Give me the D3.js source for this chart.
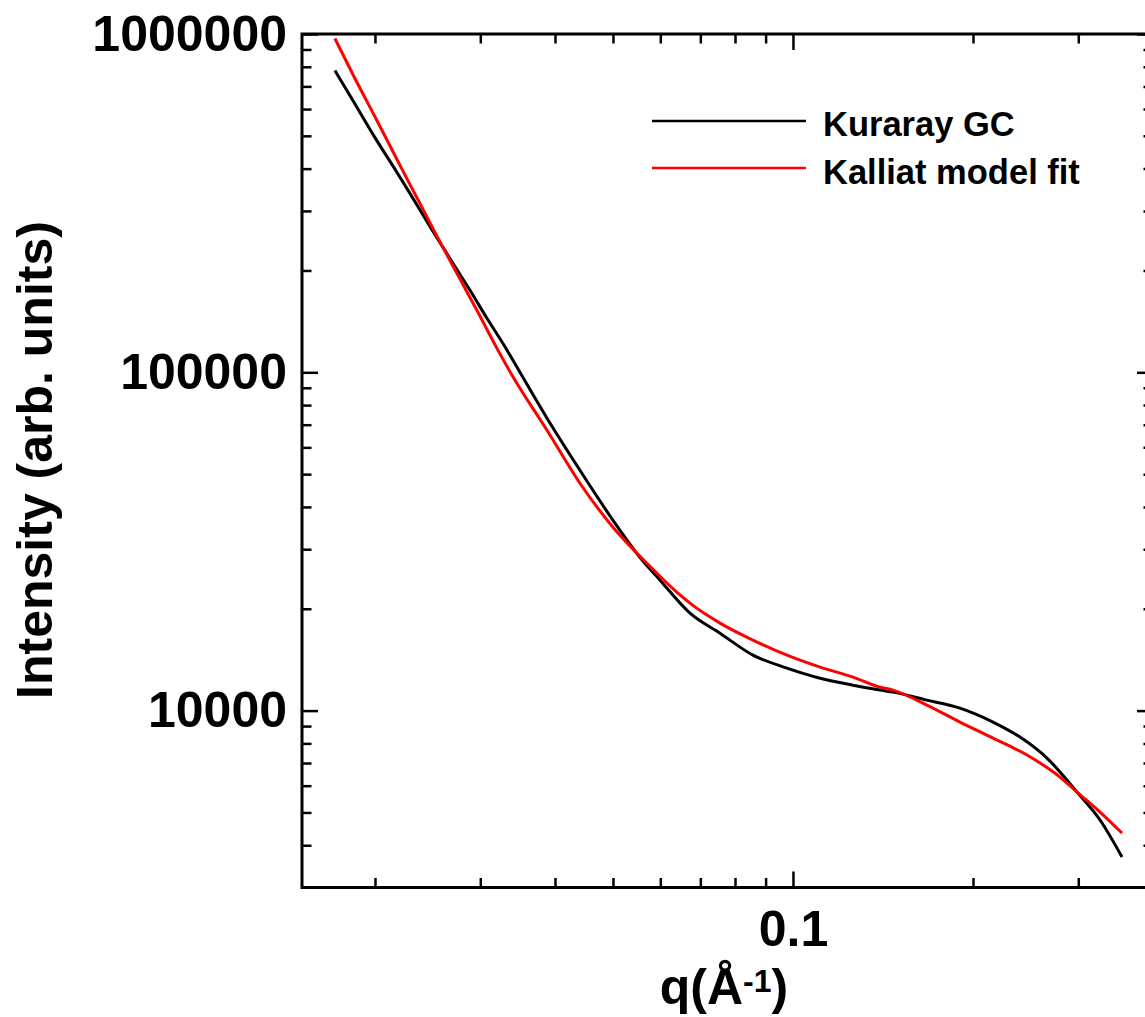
<!DOCTYPE html>
<html>
<head>
<meta charset="utf-8">
<script src="https://cdn.jsdelivr.net/npm/d3@7"></script>
<style>
  html, body { margin: 0; padding: 0; background: #fff; }
  svg { display: block; }
  text { font-family: "Liberation Sans", Arial, sans-serif; font-weight: bold; fill: #000; }
</style>
</head>
<body>
<svg id="chart" width="1145" height="1017"></svg>
<script>
// ---- Data ----
const qKuraray = [0.01714, 0.01837, 0.0200, 0.02177, 0.02288, 0.02471, 0.0270, 0.02884, 0.03078, 0.03299,
  0.03402, 0.03879, 0.04403, 0.0500, 0.05546, 0.05993, 0.06726, 0.07551, 0.08571, 0.0977,
  0.1110, 0.1260, 0.1398, 0.1470, 0.1675, 0.1902, 0.2160, 0.2397, 0.2659, 0.2985, 0.3262, 0.3550];
const iKuraray = [780000, 636000, 494000, 389800, 338000, 270000, 210000, 174700, 144400, 119000,
  108500, 73130, 51330, 36540, 28410, 24300, 19410, 16940, 14590, 13360,
  12470, 11890, 11500, 11340, 10740, 10170, 9250, 8350, 7240, 5743, 4750, 3692];

const qFit = [0.01714, 0.01837, 0.02015, 0.02177, 0.02288, 0.02378, 0.0254, 0.02742, 0.02961, 0.03199,
  0.03402, 0.03879, 0.04403, 0.0500, 0.05699, 0.06421, 0.06726, 0.07551, 0.08571, 0.0977,
  0.1110, 0.1260, 0.1398, 0.1470, 0.1675, 0.1902, 0.2160, 0.2462, 0.2796, 0.2985, 0.3262, 0.3550];
const iFit = [970000, 759000, 555200, 425800, 359200, 315700, 252200, 196100, 152500, 117700,
  96990, 67420, 46990, 34840, 27270, 22240, 20780, 18140, 16160, 14590,
  13450, 12560, 11730, 11500, 10380, 9250, 8296, 7390, 6362, 5743, 5013, 4345];

const seriesNames = ["Kuraray GC", "Kalliat model fit"];
const seriesColors = ["#000000", "#ff0000"];

const xMajorTicks = [0.1];
const xMinorTicks = [0.02, 0.03, 0.04, 0.05, 0.06, 0.07, 0.08, 0.09, 0.2, 0.3];
const yMajorTicks = [10000, 100000, 1000000];
const yMinorTicks = [4000, 5000, 6000, 7000, 8000, 9000,
  20000, 30000, 40000, 50000, 60000, 70000, 80000, 90000,
  200000, 300000, 400000, 500000, 600000, 700000, 800000, 900000];

// ---- Layout ----
const L = 302, R = 1153, T = 34, B = 887.5;
const svg = d3.select("#chart");

const x = d3.scaleLog().domain([0.0151, 0.4]).range([L, R]);
const y = d3.scaleLog().domain([3000, 1000000]).range([B, T]);

const MAJ = 16, MIN = 9.5;
const fmtY = d3.format("d");

function styleAxis(g) {
  g.select(".domain").remove();
  g.selectAll(".tick line").attr("stroke", "#000").attr("stroke-width", 2.5);
  g.selectAll(".tick text").attr("font-size", 50).attr("fill", "#000")
    .attr("font-family", '"Liberation Sans", Arial, sans-serif').attr("font-weight", "bold");
}

// Left axis
svg.append("g").attr("transform", `translate(${L},0)`)
  .call(d3.axisLeft(y).tickValues(yMinorTicks).tickSizeInner(-MIN).tickSizeOuter(0).tickFormat(""))
  .call(styleAxis);
svg.append("g").attr("transform", `translate(${L},0)`)
  .call(d3.axisLeft(y).tickValues(yMajorTicks).tickSizeInner(-MAJ).tickSizeOuter(0).tickPadding(15).tickFormat(fmtY))
  .call(styleAxis);

// Right axis (mirror, no labels)
svg.append("g").attr("transform", `translate(${R},0)`)
  .call(d3.axisRight(y).tickValues(yMinorTicks).tickSizeInner(-MIN).tickSizeOuter(0).tickFormat(""))
  .call(styleAxis);
svg.append("g").attr("transform", `translate(${R},0)`)
  .call(d3.axisRight(y).tickValues(yMajorTicks).tickSizeInner(-MAJ).tickSizeOuter(0).tickFormat(""))
  .call(styleAxis);

// Bottom axis
svg.append("g").attr("transform", `translate(0,${B})`)
  .call(d3.axisBottom(x).tickValues(xMinorTicks).tickSizeInner(-MIN).tickSizeOuter(0).tickFormat(""))
  .call(styleAxis);
svg.append("g").attr("transform", `translate(0,${B})`)
  .call(d3.axisBottom(x).tickValues(xMajorTicks).tickSizeInner(-MAJ).tickSizeOuter(0).tickPadding(23).tickFormat(d3.format(".1f")))
  .call(styleAxis);

// Top axis (mirror)
svg.append("g").attr("transform", `translate(0,${T})`)
  .call(d3.axisTop(x).tickValues(xMinorTicks).tickSizeInner(-MIN).tickSizeOuter(0).tickFormat(""))
  .call(styleAxis);
svg.append("g").attr("transform", `translate(0,${T})`)
  .call(d3.axisTop(x).tickValues(xMajorTicks).tickSizeInner(-MAJ).tickSizeOuter(0).tickFormat(""))
  .call(styleAxis);

// Frame
svg.append("rect").attr("x", L).attr("y", T).attr("width", R - L).attr("height", B - T)
  .attr("fill", "none").attr("stroke", "#000").attr("stroke-width", 3);

// Curves
const line = d3.line().x(d => x(d[0])).y(d => y(d[1])).curve(d3.curveMonotoneX);
const dataK = qKuraray.map((q, i) => [q, iKuraray[i]]);
const dataF = qFit.map((q, i) => [q, iFit[i]]);

svg.append("path").datum(dataK).attr("d", line)
  .attr("fill", "none").attr("stroke", seriesColors[0]).attr("stroke-width", 3).attr("stroke-linejoin", "round");
svg.append("path").datum(dataF).attr("d", line)
  .attr("fill", "none").attr("stroke", seriesColors[1]).attr("stroke-width", 3).attr("stroke-linejoin", "round");

// Legend
const legY = [121, 168];
const legTextY = [136, 184];
seriesNames.forEach((name, i) => {
  svg.append("line").attr("x1", 652).attr("x2", 806).attr("y1", legY[i]).attr("y2", legY[i])
    .attr("stroke", seriesColors[i]).attr("stroke-width", 2.5);
  svg.append("text").attr("x", 823).attr("y", legTextY[i]).attr("font-size", 34.5).text(name);
});

// Axis titles
svg.append("text")
  .attr("transform", "translate(52,460) rotate(-90)")
  .attr("text-anchor", "middle").attr("font-size", 50)
  .text("Intensity (arb. units)");

const xt = svg.append("text").attr("x", 724).attr("y", 1004)
  .attr("text-anchor", "middle").attr("font-size", 50);
xt.append("tspan").text("q(Å");
xt.append("tspan").attr("font-size", 32).attr("dy", -12).text("-1");
xt.append("tspan").attr("dy", 12).text(")");
</script>
</body>
</html>
